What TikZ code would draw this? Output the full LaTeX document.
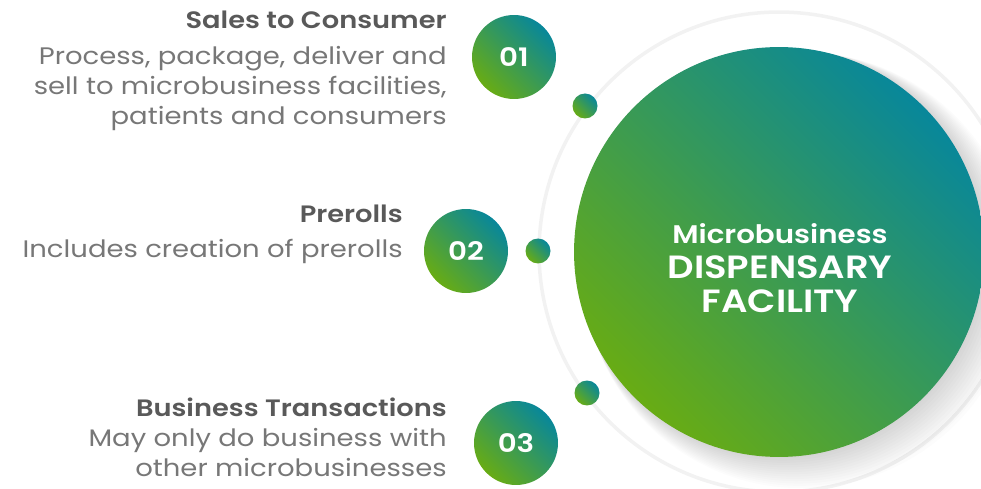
\documentclass[tikz,border=0pt]{standalone}
\usepackage{fontspec}
\IfFontExistsTF{Poppins SemiBold}
    {\setmainfont{Poppins}[FakeStretch=1.15, BoldFont={Poppins SemiBold}]}
    {\setmainfont{Poppins}[FakeStretch=1.15]}
\definecolor{leafgreen}{HTML}{68AC14}
\definecolor{seateal}{HTML}{08879A}
\definecolor{bodygray}{HTML}{777777}
\definecolor{headgray}{HTML}{595959}
\definecolor{ringgray}{HTML}{F2F2F2}

\begin{document}
\begin{tikzpicture}[x=0.02cm,y=-0.02cm]
    \tikzstyle{disc}=[circle, inner sep=0pt, left color=leafgreen, right color=seateal, shading angle=135]
    \tikzstyle{numdisc}=[disc, minimum size=1.68cm, text=white, font=\fontsize{14.5}{14.5}\selectfont\bfseries]
    \tikzstyle{dot}=[disc, minimum size=0.5cm]
    \tikzstyle{head}=[anchor=base east, inner sep=0pt, text=headgray, font=\fontsize{13.5}{13.5}\selectfont\bfseries]
    \tikzstyle{body}=[anchor=base east, inner sep=0pt, align=right, text=bodygray, font=\fontsize{13.6}{17.3}\selectfont]
    \useasboundingbox (0,0) rectangle (981,489);

    % faint ring and soft shadow behind the main circle
    \draw[ringgray, line width=2pt] (779,252) circle (4.8cm);
    \foreach \i in {1,...,14}
        \fill[black, opacity=0.012] (779+\i*1.6,252+\i*1.3) circle (4.08cm+\i*0.02cm);

    \node (hub) at (779,252) [disc, minimum size=8.2cm] {};
    \node (hubtext) at (780,313) [anchor=base, inner sep=0pt, text=white, align=center,
        font=\fontsize{18.3}{19.8}\selectfont\bfseries]
        {{\fontsize{14.5}{19.8}\selectfont Microbusiness}\\DISPENSARY\\FACILITY};

    \node (n1) at (514,57) [numdisc] {01};
    \node (n2) at (466,251) [numdisc] {02};
    \node (n3) at (516,443) [numdisc] {03};

    \node (d1) at (585,106) [dot] {};
    \node (d2) at (538,251) [dot] {};
    \node (d3) at (587,393) [dot] {};

    \node (h1) at (447,29) [head] {Sales to Consumer};
    \node (b1) at (447,125) [body] {Process, package, deliver and\\sell to microbusiness facilities,\\patients and consumers};

    \node (h2) at (403,223) [head] {Prerolls};
    \node (b2) at (403,258) [body] {Includes creation of prerolls};

    \node (h3) at (447,417) [head] {Business Transactions};
    \node (b3) at (447,477) [body] {May only do business with\\other microbusinesses};

\end{tikzpicture}
\end{document}
